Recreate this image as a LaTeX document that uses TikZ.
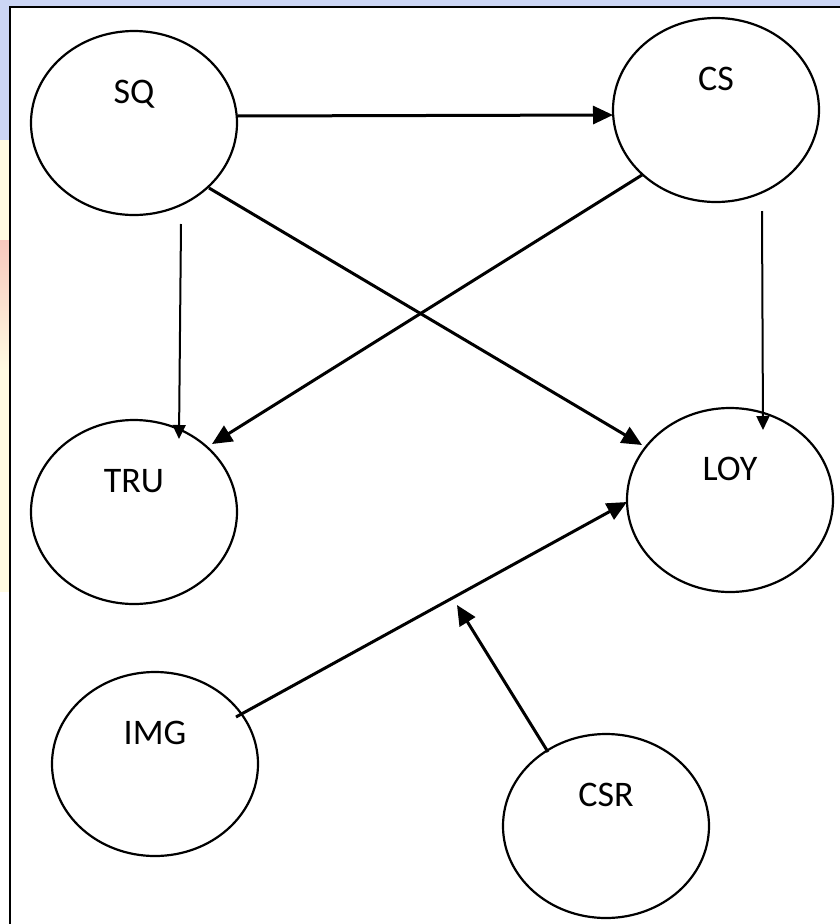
\documentclass[tikz,border=0pt]{standalone}
\usepackage{fontspec}
\setmainfont{Carlito}
\usetikzlibrary{shapes.geometric,arrows.meta,calc}
\definecolor{slideblue}{RGB}{204,214,245}
\definecolor{slideyellow}{RGB}{255,251,226}
\definecolor{slidepink}{RGB}{248,200,190}
\begin{document}
\begin{tikzpicture}[x=1pt, y=-1pt,
    construct/.style={ellipse, draw, line width=2.2pt, minimum width=206pt, minimum height=184pt,
        inner sep=0pt, text height=23pt, text depth=63pt, font=\fontsize{36}{43}\selectfont},
    rel/.style={line width=3pt, -{Triangle[length=20pt,width=18pt]}},
    relthin/.style={line width=2pt, -{Triangle[length=14pt,width=13pt]}}]
    \useasboundingbox (0,0) rectangle (840,924);
    % Slide background
    \fill[slideblue] (0,0) rectangle (840,7);
    \fill[slideblue] (0,0) rectangle (9,140);
    \fill[slideyellow] (0,140) rectangle (9,240);
    \shade[top color=slidepink, bottom color=slideyellow] (0,240) rectangle (9,370);
    \fill[slideyellow] (0,370) rectangle (9,592);
    % Frame
    \draw[line width=1.5pt] (10,924) -- (10,7) -- (840,7);
    % Constructs
    \foreach \n/\x/\y in {SQ/134/123, CS/716/110, TRU/134/512, LOY/730/500, IMG/155/764, CSR/606/826}
        \node[construct] (\n) at (\x,\y) {\n};
    % Paths
    \draw[rel] ($(SQ)+(103,-7)$) -- ($(CS)+(-103,5)$);
    \draw[relthin] ($(SQ)+(47,101)$) -- ($(TRU)+(45,-73)$);
    \draw[rel] ($(SQ)+(75,65)$) -- ($(LOY)+(-88,-55)$);
    \draw[rel] ($(CS)+(-74,65)$) -- ($(TRU)+(78,-68)$);
    \draw[relthin] ($(CS)+(46,101)$) -- ($(LOY)+(33,-70)$);
    \draw[rel] ($(IMG)+(81,-47)$) -- ($(LOY)+(-103,2)$);
    % Moderation
    \coordinate (mod) at ($(CSR)+(-149,-221)$);
    \draw[rel] ($(CSR)+(-58,-74)$) -- (mod);
\end{tikzpicture}
\end{document}
